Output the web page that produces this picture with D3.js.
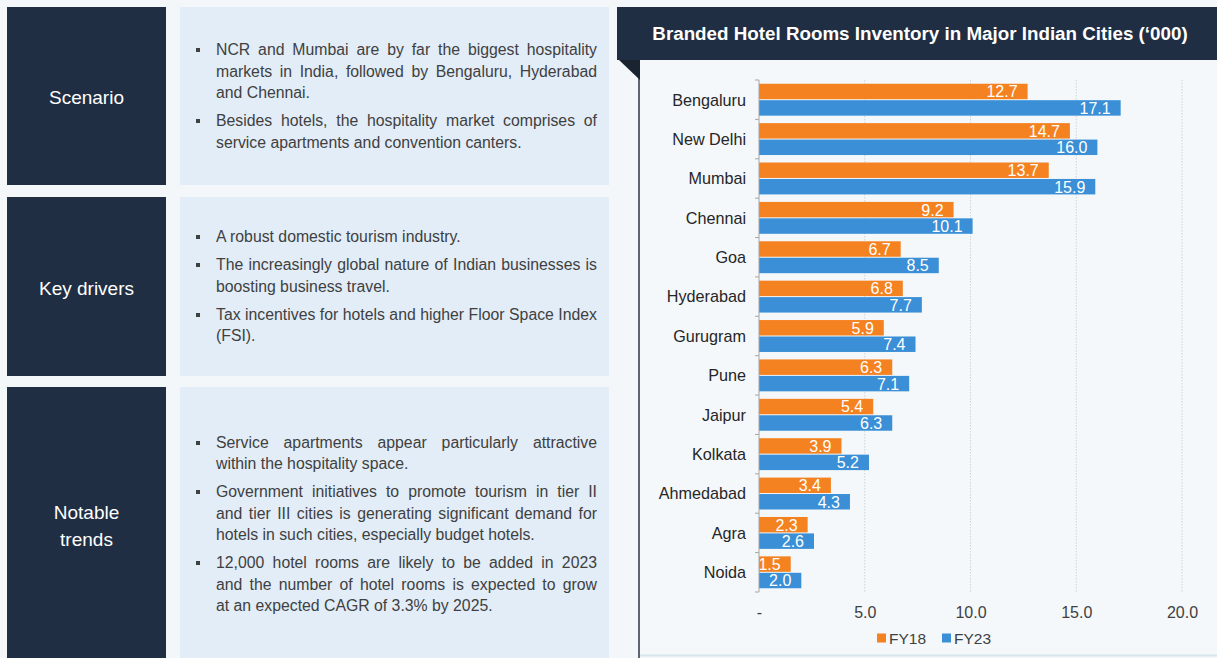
<!DOCTYPE html>
<html>
<head>
<meta charset="utf-8">
<script src="https://cdn.jsdelivr.net/npm/d3@7"></script>
<style>
  html, body { margin: 0; padding: 0; background: #f4f7fa; }
  #page { position: relative; width: 1217px; height: 658px; overflow: hidden; font-family: Arial, "Liberation Sans", sans-serif; }
  .label-box { position: absolute; background: #1f2e43; color: #fff; display: flex; align-items: center; justify-content: center; text-align: center; font-size: 19px; line-height: 27px; box-sizing: border-box; padding-top: 3px; }
  .text-box { position: absolute; background: #e2edf8; display: flex; flex-direction: column; justify-content: center; }
  .para { position: relative; margin-bottom: 6.5px; }
  .para:last-child { margin-bottom: 0; }
  .line { width: 381px; margin-left: 36px; font-size: 15.8px; line-height: 21.5px; color: #404040; white-space: nowrap; text-align: left; }
  .line.full { text-align: justify; text-align-last: justify; white-space: normal; }
  .dot { position: absolute; left: 16px; top: 9px; width: 4px; height: 4px; background: #404040; }
  #chart { position: absolute; left: 0; top: 0; }
</style>
</head>
<body>
<div id="page"></div>
<script>
const cities = ["Bengaluru", "New Delhi", "Mumbai", "Chennai", "Goa", "Hyderabad", "Gurugram", "Pune", "Jaipur", "Kolkata", "Ahmedabad", "Agra", "Noida"];
const fy18 = [12.7, 14.7, 13.7, 9.2, 6.7, 6.8, 5.9, 6.3, 5.4, 3.9, 3.4, 2.3, 1.5];
const fy23 = [17.1, 16.0, 15.9, 10.1, 8.5, 7.7, 7.4, 7.1, 6.3, 5.2, 4.3, 2.6, 2.0];
const seriesNames = ["FY18", "FY23"];
const xTicks = [0, 5, 10, 15, 20];
const chartTitle = "Branded Hotel Rooms Inventory in Major Indian Cities (‘000)";

const panelLabels = [["Scenario"], ["Key drivers"], ["Notable", "trends"]];
// each bullet is a list of lines, as broken in the original
const panelBullets = [
  [
    ["NCR and Mumbai are by far the biggest hospitality", "markets in India, followed by Bengaluru, Hyderabad", "and Chennai."],
    ["Besides hotels, the hospitality market comprises of", "service apartments and convention canters."],
  ],
  [
    ["A robust domestic tourism industry."],
    ["The increasingly global nature of Indian businesses is", "boosting business travel."],
    ["Tax incentives for hotels and higher Floor Space Index", "(FSI)."],
  ],
  [
    ["Service apartments appear particularly attractive", "within the hospitality space."],
    ["Government initiatives to promote tourism in tier II", "and tier III cities is generating significant demand for", "hotels in such cities, especially budget hotels."],
    ["12,000 hotel rooms are likely to be added in 2023", "and the number of hotel rooms is expected to grow", "at an expected CAGR of 3.3% by 2025."],
  ],
];

const rows = [
  { top: 7, height: 178 },
  { top: 197, height: 179 },
  { top: 387, height: 274 },
];

const page = d3.select("#page");

// left side: label boxes and bullet boxes
rows.forEach((r, i) => {
  page
    .append("div")
    .attr("class", "label-box")
    .style("left", "7px")
    .style("top", r.top + "px")
    .style("width", "159px")
    .style("height", r.height + "px")
    .html(panelLabels[i].join("<br>"));

  const box = page
    .append("div")
    .attr("class", "text-box")
    .style("left", "180px")
    .style("top", r.top + "px")
    .style("width", "429px")
    .style("height", r.height + "px");

  const paras = box
    .selectAll(".para")
    .data(panelBullets[i])
    .enter()
    .append("div")
    .attr("class", "para");

  paras.append("div").attr("class", "dot");

  paras
    .selectAll(".line")
    .data((d) => d.map((t, j) => ({ t, last: j === d.length - 1 })))
    .enter()
    .append("div")
    .attr("class", (d) => (d.last ? "line" : "line full"))
    .text((d) => d.t);
});

// right side: chart
const svg = page
  .append("svg")
  .attr("id", "chart")
  .attr("width", 1217)
  .attr("height", 658)
  .style("font-family", "Arial, 'Liberation Sans', sans-serif");

svg
  .append("rect")
  .attr("x", 639)
  .attr("y", 60)
  .attr("width", 578)
  .attr("height", 595)
  .attr("fill", "#f4f8fb");

svg
  .append("line")
  .attr("x1", 639)
  .attr("x2", 1217)
  .attr("y1", 655.5)
  .attr("y2", 655.5)
  .attr("stroke", "#d6e6ea")
  .attr("stroke-width", 2);

svg
  .append("line")
  .attr("x1", 639)
  .attr("x2", 639)
  .attr("y1", 60)
  .attr("y2", 658)
  .attr("stroke", "#2a3442")
  .attr("stroke-width", 1.5);

svg
  .append("rect")
  .attr("x", 617)
  .attr("y", 7)
  .attr("width", 600)
  .attr("height", 53)
  .attr("fill", "#1f2e43");

svg
  .append("path")
  .attr("d", "M619,60 L640,60 L640,80 Z")
  .attr("fill", "#1a2330");

svg
  .append("text")
  .attr("x", 920)
  .attr("y", 40)
  .attr("text-anchor", "middle")
  .attr("fill", "#fff")
  .style("font-size", "18.8px")
  .style("font-weight", "bold")
  .text(chartTitle);

const x = d3.scaleLinear().domain([0, 20]).range([759, 1182]);

const y = d3
  .scaleBand()
  .domain(cities)
  .range([80, 592])
  .paddingInner(0.19)
  .paddingOuter(0.095);

const ySub = d3
  .scaleBand()
  .domain(seriesNames)
  .range([0, y.bandwidth()])
  .paddingInner(0.06);

const color = d3.scaleOrdinal().domain(seriesNames).range(["#f58220", "#3a8fd6"]);

// gridlines
svg
  .append("g")
  .selectAll("line")
  .data(xTicks.slice(1))
  .enter()
  .append("line")
  .attr("x1", (d) => x(d))
  .attr("x2", (d) => x(d))
  .attr("y1", 80)
  .attr("y2", 592)
  .attr("stroke", "#cfd3d6")
  .attr("stroke-dasharray", "1.5,1.5");

// x axis labels
const xAxis = svg
  .append("g")
  .attr("transform", "translate(0,612)")
  .call(
    d3
      .axisBottom(x)
      .tickValues(xTicks)
      .tickSize(0)
      .tickPadding(0)
      .tickFormat((d) => (d === 0 ? "-" : d3.format(".1f")(d)))
  );
xAxis.select(".domain").remove();
xAxis
  .selectAll("text")
  .attr("y", 0)
  .attr("dy", "0.36em")
  .attr("fill", "#404040")
  .style("font-family", "Arial, 'Liberation Sans', sans-serif")
  .style("font-size", "16px");

// bars
const data = cities.map((c, i) => ({ city: c, values: [fy18[i], fy23[i]] }));

const groups = svg
  .append("g")
  .selectAll("g")
  .data(data)
  .enter()
  .append("g")
  .attr("transform", (d) => `translate(0,${y(d.city)})`);

const bars = groups
  .selectAll("g")
  .data((d) => d.values.map((v, k) => ({ key: seriesNames[k], value: v })))
  .enter()
  .append("g");

bars
  .append("rect")
  .attr("x", x(0))
  .attr("y", (d) => ySub(d.key))
  .attr("width", (d) => x(d.value) - x(0))
  .attr("height", ySub.bandwidth())
  .attr("fill", (d) => color(d.key));

bars
  .append("text")
  .attr("x", (d) => x(d.value) - 10)
  .attr("y", (d) => ySub(d.key) + ySub.bandwidth() / 2)
  .attr("dy", "0.37em")
  .attr("text-anchor", "end")
  .attr("fill", "#fff")
  .style("font-size", "16px")
  .text((d) => d3.format(".1f")(d.value));

// y axis
const yAxis = svg.append("g");
const step = y.step();
const edges = cities.map((c) => y(c) - (step - y.bandwidth()) / 2);
edges.push(edges[edges.length - 1] + step);

yAxis
  .append("line")
  .attr("x1", x(0))
  .attr("x2", x(0))
  .attr("y1", edges[0])
  .attr("y2", edges[edges.length - 1])
  .attr("stroke", "#a6a6a6");

yAxis
  .selectAll(".tick")
  .data(edges)
  .enter()
  .append("line")
  .attr("x1", x(0) - 4)
  .attr("x2", x(0))
  .attr("y1", (d) => d)
  .attr("y2", (d) => d)
  .attr("stroke", "#a6a6a6");

yAxis
  .selectAll("text")
  .data(cities)
  .enter()
  .append("text")
  .attr("x", 746)
  .attr("y", (d) => y(d) + y.bandwidth() / 2)
  .attr("dy", "0.36em")
  .attr("text-anchor", "end")
  .attr("fill", "#262626")
  .style("font-size", "16.2px")
  .text((d) => d);

// legend
const legend = svg
  .append("g")
  .selectAll("g")
  .data(seriesNames)
  .enter()
  .append("g")
  .attr("transform", (d, i) => `translate(${877 + i * 65},638)`);

legend
  .append("rect")
  .attr("x", 0)
  .attr("y", -4.5)
  .attr("width", 9)
  .attr("height", 9)
  .attr("fill", (d) => color(d));

legend
  .append("text")
  .attr("x", 12)
  .attr("y", 0)
  .attr("dy", "0.36em")
  .attr("fill", "#404040")
  .style("font-size", "15.5px")
  .text((d) => d);
</script>
</body>
</html>
